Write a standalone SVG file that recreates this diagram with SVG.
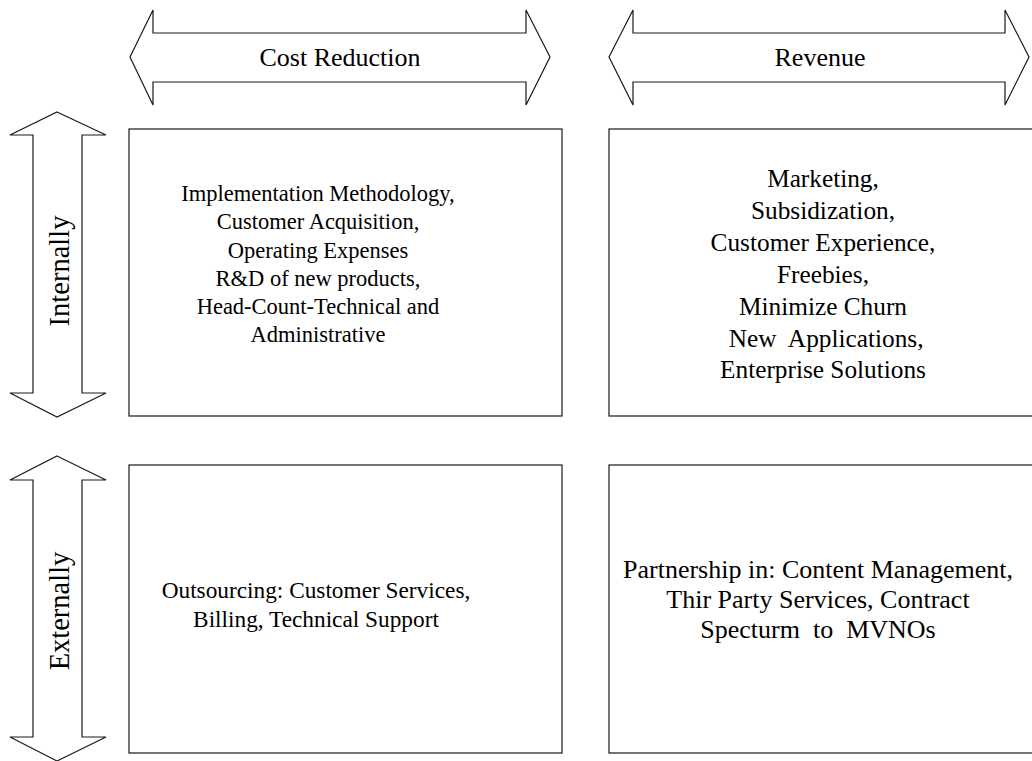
<svg xmlns="http://www.w3.org/2000/svg" width="1032" height="761" viewBox="0 0 1032 761">
  <style>
    .shape { fill: #ffffff; stroke: #1a1a1a; stroke-width: 1.2; stroke-linejoin: miter; }
    .label { font-family: "Liberation Serif", "Times New Roman", serif; fill: #000000; text-anchor: middle; }
    .head { font-size: 26px; }
    .side { font-size: 28.5px; }
    .body-l { font-size: 22.5px; }
    .body-bl { font-size: 23.3px; }
    .body-r { font-size: 25.3px; }
    .body-br { font-size: 26px; }
  </style>
  <rect width="1032" height="761" fill="#ffffff"/>

  <!-- double-headed arrows: column headers -->
  <g id="cost-reduction">
    <path class="shape" d="M130,57 L153,10 L153,33 L526,33 L526,10 L550,57 L526,105 L526,82 L153,82 L153,105 Z"/>
    <text class="label head" x="340" y="66">Cost Reduction</text>
  </g>
  <g id="revenue">
    <path class="shape" d="M609,57 L633,10 L633,33 L1005,33 L1005,10 L1029,57 L1005,105 L1005,82 L633,82 L633,105 Z"/>
    <text class="label head" x="820" y="66">Revenue</text>
  </g>

  <!-- double-headed arrows: row headers -->
  <g id="internally">
    <path class="shape" d="M57,112 L106,135 L82,135 L82,393 L106,393 L57,417 L10,393 L33,393 L33,135 L10,135 Z"/>
    <text class="label side" transform="translate(69,271) rotate(-90)" x="0" y="0">Internally</text>
  </g>
  <g id="externally">
    <path class="shape" d="M57,456 L106,480 L82,480 L82,737 L106,737 L57,761 L10,737 L33,737 L33,480 L10,480 Z"/>
    <text class="label side" transform="translate(69,611) rotate(-90)" x="0" y="0">Externally</text>
  </g>

  <!-- quadrant boxes -->
  <g id="internal-cost">
    <rect class="shape" x="129" y="129" width="433" height="287"/>
    <text class="label body-l"><tspan x="318" y="201">Implementation Methodology,</tspan><tspan x="318" y="229">Customer Acquisition,</tspan><tspan x="318" y="257.5">Operating Expenses</tspan><tspan x="318" y="285.5">R&amp;D of new products,</tspan><tspan x="318" y="313.5">Head-Count-Technical and</tspan><tspan x="318" y="341.5">Administrative</tspan></text>
  </g>
  <g id="internal-revenue">
    <rect class="shape" x="609" y="129" width="440" height="287"/>
    <text class="label body-r"><tspan x="823" y="187">Marketing,</tspan><tspan x="823" y="219">Subsidization,</tspan><tspan x="823" y="251">Customer Experience,</tspan><tspan x="823" y="283">Freebies,</tspan><tspan x="823" y="314.5">Minimize Churn</tspan><tspan x="823" y="346.5">&#160;New&#160; Applications,</tspan><tspan x="823" y="378">Enterprise Solutions</tspan></text>
  </g>
  <g id="external-cost">
    <rect class="shape" x="129" y="465" width="433" height="288"/>
    <text class="label body-bl"><tspan x="316" y="598">Outsourcing: Customer Services,</tspan><tspan x="316" y="627">Billing, Technical Support</tspan></text>
  </g>
  <g id="external-revenue">
    <rect class="shape" x="609" y="465" width="440" height="288"/>
    <text class="label body-br"><tspan x="818" y="578">Partnership in: Content Management,</tspan><tspan x="818" y="608">Thir Party Services, Contract</tspan><tspan x="818" y="638">Specturm&#160; to&#160; MVNOs</tspan></text>
  </g>
</svg>
